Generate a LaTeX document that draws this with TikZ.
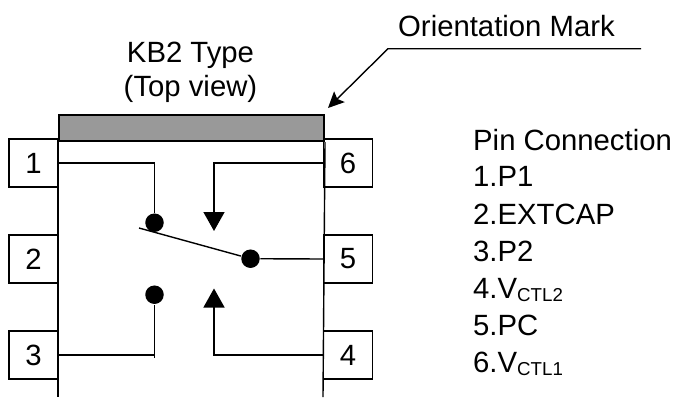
\documentclass[tikz,border=0pt]{standalone}
\usepackage{fontspec}
\setmainfont{Liberation Sans}
\usetikzlibrary{arrows.meta}
\newcommand{\ctl}[1]{V\raisebox{-3.5pt}{\fontsize{18.7}{18.7}\selectfont CTL#1}}

\begin{document}
\begin{tikzpicture}[x=1pt,y=-1pt,line width=1.4pt,
                    pin/.style={draw,minimum width=49pt,minimum height=48pt,inner sep=0pt,font=\fontsize{29.3}{29.3}\selectfont},
                    dot/.style={circle,fill=black,inner sep=0pt,minimum size=18.5pt},
                    label/.style={anchor=base west,inner sep=0pt,font=\fontsize{29.3}{29.3}\selectfont},
                    title/.style={anchor=base,inner sep=0pt,font=\fontsize{29.3}{29.3}\selectfont},
                    flow/.style={-{Triangle[length=19pt,width=21pt]},shorten >=-0.5pt}]
 \useasboundingbox (0,0) rectangle (673,397);

 % pins
 \node[pin] (P1) at (33.5,163) {1};
 \node[pin] (P2) at (33.5,259) {2};
 \node[pin] (P3) at (33.5,355) {3};
 \node[pin] (P6) at (348,163) {6};
 \node[pin] (P5) at (348,259) {5};
 \node[pin] (P4) at (348,355) {4};

 % package body
 \node[draw,fill=black!40,line width=2pt,minimum width=265pt,minimum height=26pt,inner sep=0pt,anchor=north west] (mark) at (58,114) {};
 \coordinate (bodyL) at (58,397);
 \coordinate (bodyR) at (323,397);
 \draw (mark.south west) -- (bodyL);
 \draw (mark.south east) -- (bodyR);

 % switch
 \node[dot] (A) at (154.5,222.7) {};
 \node[dot] (B) at (154.5,294.7) {};
 \node[dot] (C) at (250.5,258.7) {};
 \coordinate (armEnd) at (139,228);
 \coordinate (stubEnd) at (154.5,358);
 \coordinate (tipT) at (214,230.5);
 \coordinate (tipB) at (214,289);

 \draw (P1.east) -| (A);
 \draw (P3.east) -| (stubEnd);
 \draw (stubEnd) -- (B);
 \draw (C) -- (P5.west);
 \draw (C) -- (armEnd);
 \draw[flow] (P6.west) -| (tipT);
 \draw[flow] (P4.west) -| (tipB);

 % texts
 \node[title] (kb) at (190.5,62) {KB2 Type};
 \node[title] (top) at (190.5,96) {(Top view)};
 \node[label] (om) at (397.5,36.6) {Orientation Mark};
 \node[label] (pc) at (472.5,150) {Pin Connection};
 \node[label] (n1) at (472.5,186.7) {1.P1};
 \node[label] (n2) at (472.5,224) {2.EXTCAP};
 \node[label] (n3) at (472.5,261) {3.P2};
 \node[label] (n4) at (472.5,298) {4.\ctl{2}};
 \node[label] (n5) at (472.5,335) {5.PC};
 \node[label] (n6) at (472.5,372) {6.\ctl{1}};

 % leader of the mark
 \coordinate (leadA) at (641,48.7);
 \coordinate (leadB) at (388,48.7);
 \coordinate (leadC) at (328,108);
 \draw[-{Stealth[length=16pt,width=15pt,inset=3pt]}] (leadA) -- (leadB) -- (leadC);
\end{tikzpicture}
\end{document}
